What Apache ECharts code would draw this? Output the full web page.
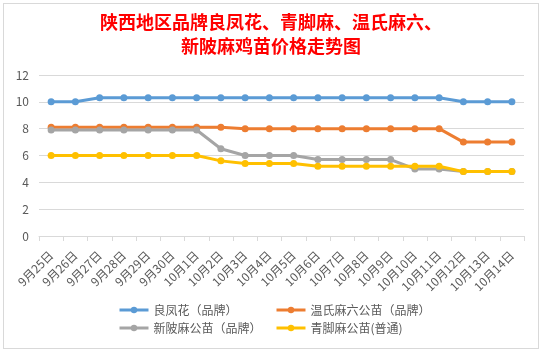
<!DOCTYPE html>
<html>
<head>
<meta charset="utf-8">
<script src="https://cdn.jsdelivr.net/npm/echarts@6/dist/echarts.min.js"></script>
<style>
  html, body { margin: 0; padding: 0; background: #fff; }
  #frame { position: absolute; left: 3px; top: 3px; width: 534px; height: 344px; border: 1px solid #d9d9d9; }
  #chart { position: absolute; left: 0; top: 0; width: 542px; height: 352px; }
</style>
</head>
<body>
<div id="frame"></div>
<div id="chart"></div>
<script>
// 日期与各品种价格
const categories = ['9月25日', '9月26日', '9月27日', '9月28日', '9月29日', '9月30日', '10月1日', '10月2日', '10月3日', '10月4日',
  '10月5日', '10月6日', '10月7日', '10月8日', '10月9日', '10月10日', '10月11日', '10月12日', '10月13日', '10月14日']
const seriesNames = ['良凤花（品牌）', '温氏麻六公苗（品牌）', '新陂麻公苗（品牌）', '青脚麻公苗(普通)']
const liangfenghua = [10, 10, 10.3, 10.3, 10.3, 10.3, 10.3, 10.3, 10.3, 10.3, 10.3, 10.3, 10.3, 10.3, 10.3, 10.3, 10.3, 10, 10, 10]
const wenshi = [8.1, 8.1, 8.1, 8.1, 8.1, 8.1, 8.1, 8.1, 8, 8, 8, 8, 8, 8, 8, 8, 8, 7, 7, 7]
const xinpi = [7.9, 7.9, 7.9, 7.9, 7.9, 7.9, 7.9, 6.5, 6, 6, 6, 5.7, 5.7, 5.7, 5.7, 5, 5, 4.8, 4.8, 4.8]
const qingjiao = [6, 6, 6, 6, 6, 6, 6, 5.6, 5.4, 5.4, 5.4, 5.2, 5.2, 5.2, 5.2, 5.2, 5.2, 4.8, 4.8, 4.8]
const yTicks = { min: 0, max: 12, interval: 2 }

const colors = ['#5B9BD5', '#ED7D31', '#A5A5A5', '#FFC000']
const font = '"Noto Sans CJK SC", sans-serif'
const values = [liangfenghua, wenshi, xinpi, qingjiao]

const myChart = echarts.init(document.getElementById('chart'))

function legendAt(name, left, top) {
  return {
    data: [name], left: left, top: top, itemWidth: 29, itemHeight: 8, itemGap: 4,
    lineStyle: { width: 3 },
    textStyle: { color: '#595959', fontSize: 12, fontFamily: font }
  }
}

myChart.setOption({
  animation: false,
  color: colors,
  title: {
    text: '陕西地区品牌良凤花、青脚麻、温氏麻六、\n新陂麻鸡苗价格走势图',
    left: 'center', top: 5,
    textStyle: { color: '#FF0000', fontSize: 18, fontWeight: 'bold', fontFamily: font, lineHeight: 24 }
  },
  legend: [
    legendAt(seriesNames[0], 113, 299),
    legendAt(seriesNames[1], 270, 299),
    legendAt(seriesNames[2], 113, 317),
    legendAt(seriesNames[3], 270, 317)
  ],
  grid: { left: 39, right: 18, top: 75, bottom: 116 },
  xAxis: {
    type: 'category',
    data: categories,
    boundaryGap: true,
    axisLine: { lineStyle: { color: '#d9d9d9' } },
    axisTick: { show: true, lineStyle: { color: '#d9d9d9' } },
    axisLabel: { rotate: 45, color: '#595959', fontSize: 12, fontFamily: font, interval: 0, margin: 17 }
  },
  yAxis: {
    type: 'value',
    min: yTicks.min, max: yTicks.max, interval: yTicks.interval,
    axisLine: { show: false },
    axisTick: { show: false },
    splitLine: { lineStyle: { color: '#d9d9d9' } },
    axisLabel: { color: '#595959', fontSize: 12, fontFamily: font, margin: 10 }
  },
  series: seriesNames.map(function (name, i) {
    return {
      name: name, type: 'line', data: values[i],
      symbol: 'circle', symbolSize: 7,
      lineStyle: { width: 3 },
      z: 10 + i
    }
  })
})
</script>
</body>
</html>
